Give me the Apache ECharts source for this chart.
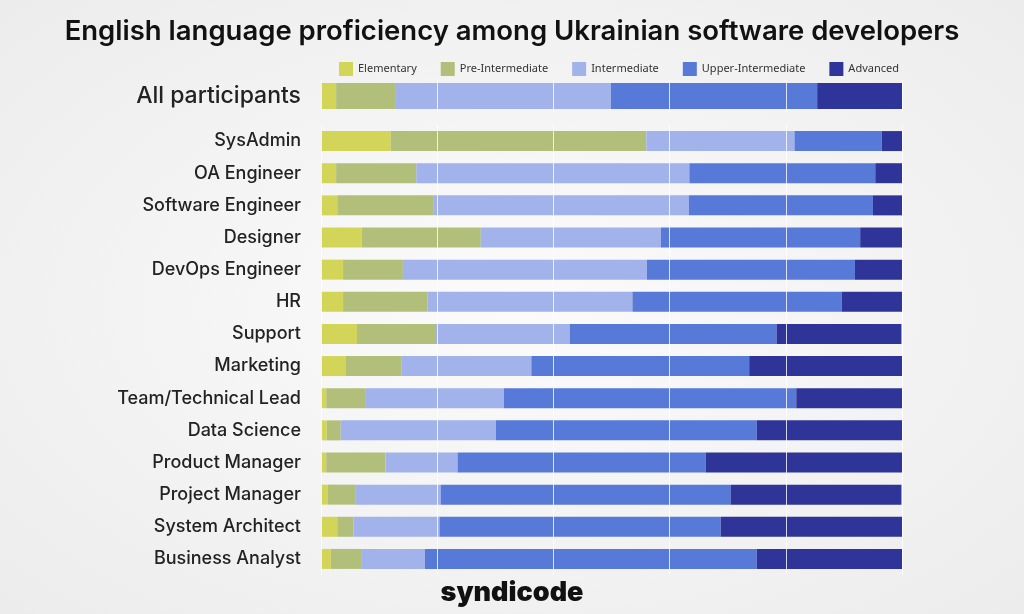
<!DOCTYPE html>
<html><head><meta charset="utf-8">
<script src="https://cdn.jsdelivr.net/npm/echarts@6/dist/echarts.min.js"></script>
<style>html,body{margin:0;padding:0;}#c{width:1024px;height:614px;background:radial-gradient(ellipse at center,#fbfbfb 0%,#ececec 100%);}</style>
</head><body><div id="c"></div>
<script>
const levels = ['Elementary','Pre-Intermediate','Intermediate','Upper-Intermediate','Advanced'];
const colors = ['#d3d558','#b2bf7b','#a2b2ea','#5779d8','#2f3498'];
const allLabel = ['All participants'];
const allValues = [[2.6],[10.3],[37],[35.5],[14.6]];
const roles = ['SysAdmin','OA Engineer','Software Engineer','Designer','DevOps Engineer','HR','Support','Marketing','Team/Technical Lead','Data Science','Product Manager','Project Manager','System Architect','Business Analyst'];
const elementary = [12,2.6,2.8,7,3.8,3.8,6.2,4.3,0.9,1,0.9,1.2,2.8,1.7];
const preIntermediate = [44,13.8,16.5,20.5,10.3,14.5,13.6,9.5,6.7,2.4,10.2,4.8,2.8,5.2];
const intermediate = [25.5,47,44,31,42,35.3,23,22.4,23.9,26.7,12.4,14.6,14.8,11];
const upperIntermediate = [15,32,31.7,34.3,35.8,36,35.6,37.5,50.3,44.9,42.7,49.9,48.4,57.1];
const advanced = [3.5,4.6,5,7.2,8.1,10.5,21.5,26.3,18.2,25,33.9,29.4,31.3,25];
const roleValues = [elementary,preIntermediate,intermediate,upperIntermediate,advanced];

const chart = echarts.init(document.getElementById('c'));
const xa = gi => ({type:'value',gridIndex:gi,min:0,max:100,interval:20,show:true,z:10,
  axisLine:{show:false},axisTick:{show:false},axisLabel:{show:false},
  splitLine:{show:true,lineStyle:{color:'rgba(255,255,255,0.8)',width:1}}});
const series = [];
levels.forEach((l,i)=>{
  series.push({name:l,type:'bar',stack:'a',xAxisIndex:0,yAxisIndex:0,barWidth:26,itemStyle:{color:colors[i]},data:allValues[i]});
  series.push({name:l,type:'bar',stack:'b',xAxisIndex:1,yAxisIndex:1,barWidth:20,itemStyle:{color:colors[i]},data:roleValues[i]});
});
chart.setOption({
  backgroundColor:'transparent',
  animation:false,
  title:[{text:'English language proficiency among Ukrainian software developers',left:'center',top:13,
    textStyle:{fontFamily:'Inter',fontSize:27.5,fontWeight:600,color:'#111'}},
    {text:'syndicode',left:'center',top:574,textStyle:{fontFamily:'Inter',fontSize:27,fontWeight:900,color:'#111'}}],
  legend:{top:57,left:334,itemWidth:14,itemHeight:14,itemGap:24,icon:'rect',data:levels,
    textStyle:{fontFamily:'Noto Sans',fontSize:11,color:'#333'}},
  grid:[{left:321,width:581,top:80,height:32},{left:321,width:581,top:125,height:450}],
  xAxis:[xa(0),xa(1)],
  yAxis:[{type:'category',gridIndex:0,data:allLabel,inverse:true,axisLine:{show:false},axisTick:{show:false},
      axisLabel:{fontFamily:'Inter',fontSize:23,fontWeight:500,color:'#222',margin:20}},
    {type:'category',gridIndex:1,data:roles,inverse:true,axisLine:{show:false},axisTick:{show:false},
      axisLabel:{fontFamily:'Inter',fontSize:18,fontWeight:500,color:'#222',margin:20}}],
  series:series
});
</script></body></html>
